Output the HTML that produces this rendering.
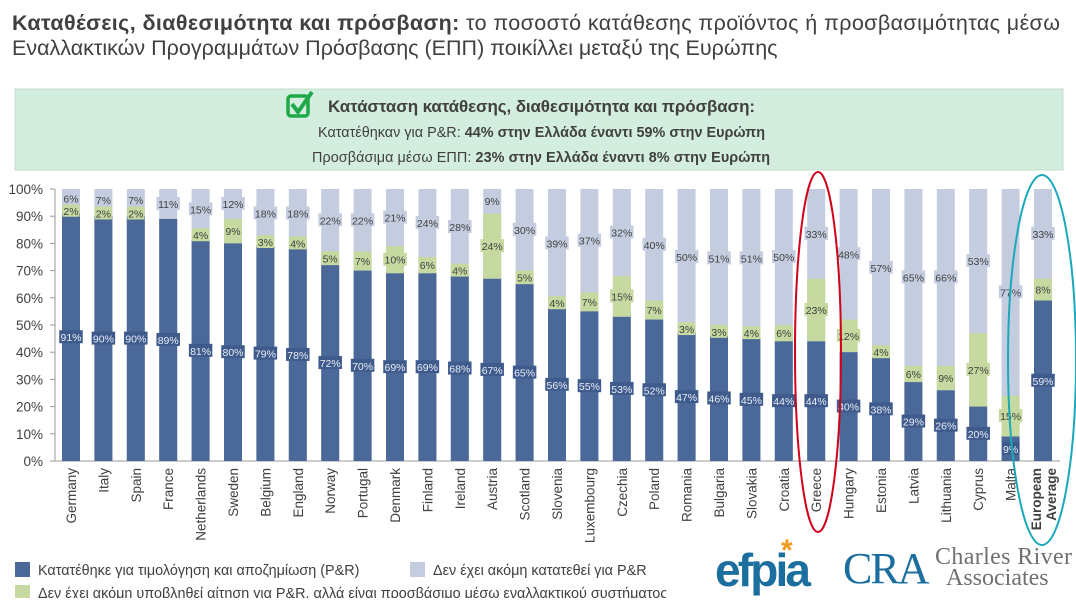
<!DOCTYPE html>
<html><head><meta charset="utf-8"><style>
body{margin:0;width:1076px;height:598px;overflow:hidden;background:#fff;font-family:"Liberation Sans",sans-serif;color:#404040}
</style></head><body>
<svg width="1076" height="598" xmlns="http://www.w3.org/2000/svg" font-family="Liberation Sans, sans-serif">
<text x="12" y="30" font-size="21.5" fill="#404040" textLength="1048"><tspan font-weight="bold">Καταθέσεις, διαθεσιμότητα και πρόσβαση:</tspan> το ποσοστό κατάθεσης προϊόντος ή προσβασιμότητας μέσω</text>
<text x="12" y="55" font-size="21.5" fill="#404040">Εναλλακτικών Προγραμμάτων Πρόσβασης (ΕΠΠ) ποικίλλει μεταξύ της Ευρώπης</text>
<rect x="15" y="89" width="1048" height="81" fill="#d3eedf" stroke="#c6dccd"/>
<rect x="288" y="96" width="20" height="20" rx="3" fill="none" stroke="#1da84a" stroke-width="3.5"/>
<path d="M292 104 L298 112 L312 92" fill="none" stroke="#1da84a" stroke-width="4"/>
<text x="328" y="112" font-size="17" font-weight="bold" fill="#404040" textLength="427">Κατάσταση κατάθεσης, διαθεσιμότητα και πρόσβαση:</text>
<text x="318" y="137" font-size="14.4" fill="#404040" textLength="447">Κατατέθηκαν για P&amp;R: <tspan font-weight="bold">44% στην Ελλάδα έναντι 59% στην Ευρώπη</tspan></text>
<text x="312" y="162" font-size="14.4" fill="#404040" textLength="458">Προσβάσιμα μέσω ΕΠΠ: <tspan font-weight="bold">23% στην Ελλάδα έναντι 8% στην Ευρώπη</tspan></text>
<g id="chart"></g>
<rect x="15" y="562" width="15" height="15" fill="#4a6898"/>
<text x="38" y="575" font-size="14.4" fill="#404040">Κατατέθηκε για τιμολόγηση και αποζημίωση (P&amp;R)</text>
<rect x="410" y="562" width="15" height="15" fill="#c4cde0"/>
<text x="433" y="575" font-size="14.4" fill="#404040">Δεν έχει ακόμη κατατεθεί για P&amp;R</text>
<rect x="15" y="585" width="15" height="15" fill="#c6d9a0"/>
<text x="38" y="598" font-size="14.4" fill="#404040">Δεν έχει ακόμη υποβληθεί αίτηση για P&amp;R, αλλά είναι προσβάσιμο μέσω εναλλακτικού συστήματος</text>
<text x="715" y="586" font-size="46" font-weight="bold" fill="#1a6f9e" letter-spacing="-1" textLength="95">efpia</text>
<text x="781" y="560" font-size="30" font-weight="bold" fill="#f29a1a">*</text>
<text x="843" y="583" font-size="44" font-family="Liberation Serif, serif" fill="#1a6f9e" letter-spacing="-2">CRA</text>
<text x="935" y="564" font-size="24" font-family="Liberation Serif, serif" fill="#707070" textLength="137">Charles River</text>
<text x="946" y="585" font-size="24" font-family="Liberation Serif, serif" fill="#707070">Associates</text>
<ellipse cx="818" cy="352" rx="23" ry="180" fill="none" stroke="#d0021b" stroke-width="2"/>
<ellipse cx="1042" cy="360" rx="34" ry="185" fill="none" stroke="#1aa9b9" stroke-width="2"/>
</svg>
<script>
var d=[["Germany",91,2,6],["Italy",90,2,7],["Spain",90,2,7],["France",89,0,11],["Netherlands",81,4,15],["Sweden",80,9,12],["Belgium",79,3,18],["England",78,4,18],["Norway",72,5,22],["Portugal",70,7,22],["Denmark",69,10,21],["Finland",69,6,24],["Ireland",68,4,28],["Austria",67,24,9],["Scotland",65,5,30],["Slovenia",56,4,39],["Luxembourg",55,7,37],["Czechia",53,15,32],["Poland",52,7,40],["Romania",47,3,50],["Bulgaria",46,3,51],["Slovakia",45,4,51],["Croatia",44,6,50],["Greece",44,23,33],["Hungary",40,12,48],["Estonia",38,4,57],["Latvia",29,6,65],["Lithuania",26,9,66],["Cyprus",20,27,53],["Malta",9,15,77],["EU",59,8,33]];
var s="",y0=461,k=2.72;
for(var i=0;i<=10;i++){var y=y0-i*27.2;s+='<text x="43" y="'+(y+5)+'" font-size="13.5" text-anchor="end" fill="#404040">'+(i*10)+'%</text><line x1="50" x2="55" y1="'+y+'" y2="'+y+'" stroke="#999"/>';}
s+='<line x1="55" x2="55" y1="189" y2="461" stroke="#999"/><line x1="55" x2="1060" y1="461" y2="461" stroke="#999"/>';
function lab(cx,cy,t,bg,fg){var w=t.length*6.5+4;return '<rect x="'+(cx-w/2)+'" y="'+(cy-7)+'" width="'+w+'" height="13" fill="'+bg+'"/><text x="'+cx+'" y="'+(cy+4)+'" font-size="10.5" text-anchor="middle" fill="'+fg+'">'+t+'</text>';}
d.forEach(function(r,i){var cx=71+i*32.4,x=cx-9,b=r[1]*k,g=r[2]*k;
s+='<rect x="'+x+'" y="189" width="18" height="272" fill="#c4cde0"/>';
s+='<rect x="'+x+'" y="'+(y0-b-g)+'" width="18" height="'+g+'" fill="#c6d9a0"/>';
s+='<rect x="'+x+'" y="'+(y0-b)+'" width="18" height="'+b+'" fill="#4a6898"/>';
s+=lab(cx,y0-b/2,r[1]+'%','#3f5b8c','#e8eef8');
if(r[2])s+=lab(cx,y0-b-g/2,r[2]+'%','#c6d9a0','#404040');
s+=lab(cx,189+(272-b-g)/2,r[3]+'%','#c4cde0','#404040');
if(r[0]=="EU"){s+='<text transform="translate('+(cx-2)+',468) rotate(-90)" font-size="13.5" font-weight="bold" text-anchor="end" fill="#404040">European</text><text transform="translate('+(cx+13)+',468) rotate(-90)" font-size="13.5" font-weight="bold" text-anchor="end" fill="#404040">Average</text>';}
else s+='<text transform="translate('+(cx+5)+',468) rotate(-90)" font-size="13.5" text-anchor="end" fill="#404040">'+r[0]+'</text>';
});
document.getElementById("chart").innerHTML=s;
</script>
</body></html>
